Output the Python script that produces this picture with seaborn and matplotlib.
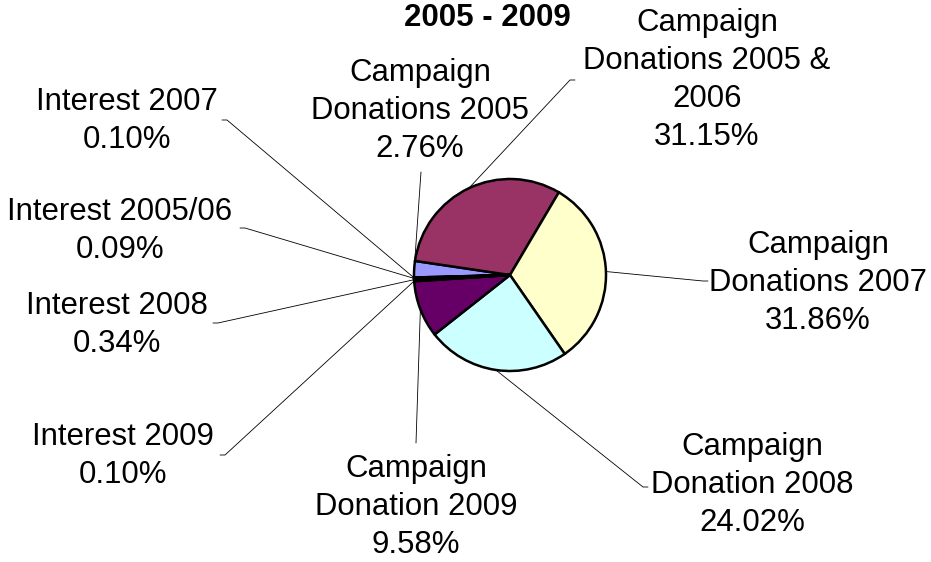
import numpy as np
import matplotlib
matplotlib.use("Agg")
import matplotlib.pyplot as plt
import seaborn as sns

# slice data, in the order the pie is drawn (clockwise)
labels = ["Campaign\nDonations 2005", "Campaign\nDonations 2005 &\n2006", "Campaign\nDonations 2007",
          "Campaign\nDonation 2008", "Campaign\nDonation 2009", "Interest 2009",
          "Interest 2008", "Interest 2005/06", "Interest 2007"]
shares = [2.76, 31.15, 31.86, 24.02, 9.58, 0.10, 0.34, 0.09, 0.10]
colors = ["#9999FF", "#993366", "#FFFFCC", "#CCFFFF", "#660066",
          "#FF8080", "#0066CC", "#CCCCFF", "#000080"]

# where each label sits and where its leader line bends (pixels, y down)
label_pos = [(420, 111), (707, 80), (818, 283), (752, 485), (416, 507),
             (123, 456), (117, 325), (120, 231), (127, 121)]
line_end = [(421, 172), (570, 80), (703, 281), (643, 487), (416, 443),
            (225, 455), (218, 323), (245, 228), (227, 120)]
tick_dir = [0, 1, 1, 1, 0, -1, -1, -1, -1]

W, H = 931, 562
cx, cy, R = 510, 275, 96

sns.set_theme(style="white")
plt.rcParams['font.family'] = ['Liberation Sans', 'DejaVu Sans']

fig = plt.figure(figsize=(W / 100, H / 100), dpi=100)
ax = fig.add_axes([0, 0, 1, 1])

wedges, _ = ax.pie(shares, colors=colors, startangle=181.5, counterclock=False,
                   center=(cx, H - cy), radius=R, frame=True,
                   wedgeprops=dict(edgecolor="black", linewidth=1.8))
for w in wedges:
    w.set_zorder(3)

for i, w in enumerate(wedges):
    mid = np.deg2rad((w.theta1 + w.theta2) / 2)
    x0 = cx + R * np.cos(mid)
    y0 = (H - cy) + R * np.sin(mid)
    ex, ey = line_end[i]
    xs = [x0, ex]
    ys = [y0, H - ey]
    if tick_dir[i]:
        xs.append(ex + 5 * tick_dir[i])
        ys.append(H - ey)
    ax.plot(xs, ys, color="black", linewidth=0.6, zorder=2)
    pct = f"{shares[i]:.2f}%"
    lx, ly = label_pos[i]
    ax.text(lx, H - ly, labels[i] + "\n" + pct, ha="center", va="center",
            multialignment="center", fontsize=22.4, linespacing=1.36, color="black")

ax.text(487, H - 18, "2005 - 2009", ha="center", va="center",
        fontsize=22.5, fontweight="bold", color="black")

ax.set_xlim(0, W)
ax.set_ylim(0, H)
ax.set_aspect("equal")
ax.axis("off")

fig.savefig("out.png", dpi=100, facecolor="white")
